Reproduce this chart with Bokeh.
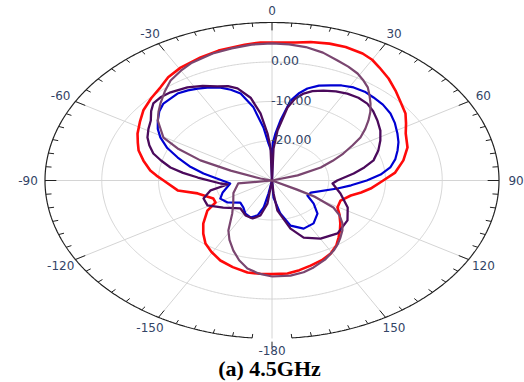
import numpy as np
from bokeh.plotting import figure
from bokeh.models import Range1d
from bokeh.embed import file_html
from bokeh.resources import INLINE
from bokeh.core.properties import value

# ---------------- data (angle in degrees, gain in dB) ----------------
red_ang = [-180, -175, -169.5, -162.5, -155.8, -149.5, -143.7, -138, -132, -123.8, -119.2, -113.8,
           -104, -98.6, -90, -86.5, -83.3, -77.5, -72.1, -68, -63.4, -57.5, -51.9, -45.5, -39.8,
           -35, -29.4, -22, -16, -8, -3.3, 0, 6.8, 11, 16.3, 21, 26.4, 30, 33.5, 38.5, 43.7,
           48.5, 54.2, 58.5, 63.2, 70.7, 77.6, 84.7, 90, 96.7, 101, 105.3, 112.8, 120.6, 126,
           132, 136.5, 140.9, 145.5, 150.8, 156.5, 162.5, 168, 173.4, 180]
red_db = [-6.3, -6.3, -6.3, -7.0, -7.8, -9.0, -10.2, -11.9, -13.7, -16.3, -18.6, -18.7,
          -16.5, -13.2, -10.9, -9.6, -8.4, -6.8, -5.3, -4.5, -3.5, -2.4, -1.2, -0.2, 0.7,
          1.9, 2.8, 3.6, 4.2, 4.7, 5.0, 4.9, 5.2, 5.7, 6.1, 6.2, 5.9, 5.3, 4.3, 3.0, 1.5,
          0.2, -1.0, -2.3, -3.6, -4.7, -6.3, -8.2, -10.4, -12.5, -14.0, -15.6, -16.9, -16.6, -15.3,
          -13.8, -12.6, -11.4, -10.0, -8.8, -8.0, -7.4, -6.8, -6.3, -6.3]

blue_ang = [-180, -169.4, -167.8, -164, -157.9, -150.8, -143.6, -135, -125.3, -116.7, -109.2,
            -96, -81.7, -76, -70.7, -66, -61, -57, -53, -48.5, -44.5, -37.1, -33, -29.4, -25,
            -21.1, -17.5, -14.1, -10, -6.4, -3.8, -1, 0, 0.8, 3, 5.6, 9.2, 12, 15, 19, 23.2, 27,
            31.4, 36, 40.4, 45.5, 50.9, 56, 61.7, 66.5, 71, 76, 81, 85.5, 90, 95, 100, 114,
            121.3, 128.6, 136.3, 146, 155.4, 164, 170, 176.5, 180]
blue_db = [-30, -26.7, -23.0, -20.8, -19.9, -20.4, -21.5, -22.1, -20.4, -19.8, -20.8,
           -22.6, -17.8, -15.0, -12.4, -9.8, -7.5, -6.0, -4.8, -3.5, -2.7, -2.4, -2.8, -3.3, -4.0,
           -4.8, -5.9, -7.3, -11.2, -16.5, -20.6, -22.5, -30, -20.5, -18.0, -14.7, -9.5, -7.5,
           -5.9, -4.6, -3.8, -3.0, -2.4, -2.2, -2.4, -2.6, -3.1, -3.9, -4.9, -5.7, -6.6, -7.6,
           -8.9, -10.8, -13.3, -16.0, -18.3, -22.5, -22.7, -20.6, -18.4, -16.9, -16.6, -18.1,
           -21.5, -25.7, -30]

purple_ang = [-180, -172.2, -167, -160.4, -152.2, -141.9, -128.6, -119, -110.7, -103, -97.3,
              -94.8, -86.7, -83, -79.6, -75.5, -71.9, -67.5, -63.6, -59, -54.6, -50.5, -47, -43,
              -38.7, -32.3, -27, -22, -18, -14.6, -10.2, -6.8, -3.8, -1.8, 0, 1.9, 4.4, 8.4, 11,
              14.2, 17.5, 21.7, 26.5, 31.1, 36, 40.8, 45.5, 50.7, 56.5, 62.1, 68, 74.1, 78.5, 83,
              90, 94.1, 105.2, 117.2, 127.2, 139.2, 149.8, 158.9, 165, 172.8, 175.4, 180]
purple_db = [-30, -24.1, -20.9, -19.8, -20.0, -21.0, -19.0, -17.0, -17.1, -18.9, -22.1,
             -20.9, -16.9, -14.2, -11.8, -9.8, -8.0, -6.6, -5.5, -4.6, -3.8, -2.4, -1.4, -1.2,
             -1.4, -2.1, -3.1, -4.3, -4.9, -5.9, -8.7, -12.9, -18.1, -21.6, -30, -21.9, -17.3,
             -11.3, -9.0, -7.3, -6.3, -5.5, -4.8, -4.3, -4.1, -4.3, -5.0, -6.0, -7.1, -8.4, -9.8,
             -11.4, -13.4, -15.5, -18.5, -19.3, -17.5, -15.0, -13.3, -12.3, -13.0, -14.5, -17.4,
             -22.3, -26.7, -30]

mauve_ang = [-180, -174.5, -169, -164, -159, -153.5, -148.7, -140, -130.6, -115, -97, -85, -76,
             -71, -68, -64, -60.4, -53, -49, -45.2, -40, -35.2, -30, -25.3, -18, -12, -6, 0, 5,
             10, 15.5, 20.8, 25, 29.1, 32.5, 35.6, 38.5, 41.7, 45, 48.2, 51.5, 55.1, 58, 61.5,
             65, 69, 74, 92, 117.5, 118.5, 122.3, 126.5, 131.2, 135.5, 140.1, 144.5, 148.5, 155,
             161.6, 166.5, 172.3, 180]
mauve_db = [-5.7, -6.3, -7.3, -9.0, -11.0, -13.2, -15.2, -19.1, -21.0, -22.5, -24.0, -30, -27.9,
            -22.3, -16.4, -11.5, -8.0, -4.8, -3.5, -2.3, -0.6, 1.0, 2.1, 3.0, 3.8, 4.2, 4.6, 4.7,
            4.6, 4.3, 3.6, 2.5, 1.8, 1.0, 0.0, -1.0, -2.4, -3.9, -5.5, -7.2, -9.0, -11.0, -13.3,
            -15.7, -18.2, -20.8, -25.3, -30, -25.0, -21.5, -17.2, -15.2, -13.5, -12.3, -11.2,
            -10.1, -9.2, -7.9, -6.8, -6.1, -5.7, -5.7]

ring_db = [-20, -10, 0]
ring_labels = ["-20.00", "-10.00", "0.00"]
angle_ticks = [0, 30, 60, 90, 120, 150, 180, -150, -120, -90, -60, -30]
angle_labels = ["0", "30", "60", "90", "120", "150", "-180", "-150", "-120", "-90", "-60", "-30"]
caption = "(a) 4.5GHz"

DB_MIN, DB_MAX = -30.0, 10.0

# ---------------- helpers ----------------
def rho_of(db):
    return np.clip((np.asarray(db, float) - DB_MIN) / (DB_MAX - DB_MIN), 0, None)

def to_xy(ang, rho):
    a = np.radians(np.asarray(ang, float))
    rho = np.asarray(rho, float)
    return rho * np.sin(a), rho * np.cos(a)

# pixel geometry: centre (271.5, 180), 227 px per unit horizontally, 158 vertically
W, H = 524, 382
CX, CY, RX, RY = 271.5, 180.0, 227.0, 158.0

p = figure(width=W, height=H, output_backend="svg", toolbar_location=None,
           x_range=Range1d(-CX / RX, (W - CX) / RX),
           y_range=Range1d(-(H - CY) / RY, CY / RY),
           min_border=0, min_border_left=0, min_border_right=0,
           min_border_top=0, min_border_bottom=0)
p.axis.visible = False
p.grid.visible = False
p.outline_line_color = None
p.background_fill_color = "white"
p.border_fill_color = "white"

grid_col = "#d4d4d4"

# rings
t = np.linspace(-180, 180, 721)
for db in ring_db:
    gx, gy = to_xy(t, np.full_like(t, rho_of(db)))
    p.line(gx, gy, line_color=grid_col, line_width=1)

# spokes
sx0, sy0 = to_xy(angle_ticks, np.zeros(len(angle_ticks)))
sx1, sy1 = to_xy(angle_ticks, np.ones(len(angle_ticks)))
p.segment(sx0, sy0, sx1, sy1, line_color=grid_col, line_width=1)

# outer ring (gap at the bottom under the -180 label)
to = np.linspace(-175, 175, 701)
ox, oy = to_xy(to, np.ones_like(to))
p.line(ox, oy, line_color="#222222", line_width=1.2)

# ticks every 5 degrees
tick_ang = np.arange(-175, 180, 5)
major = (tick_ang % 30 == 0)
inner = np.where(major, 0.95, 0.975)
tx0, ty0 = to_xy(tick_ang, np.ones_like(tick_ang, dtype=float))
tx1, ty1 = to_xy(tick_ang, inner)
p.segment(tx0, ty0, tx1, ty1, line_color="#222222", line_width=1)
bx0, by0 = to_xy([180], [1.02])
bx1, by1 = to_xy([180], [1.055])
p.segment(bx0, by0, bx1, by1, line_color="#222222", line_width=1)

# curves
def curve(ang, db, color, lw):
    ang = np.asarray(ang, float)
    db = np.asarray(db, float)
    order = np.argsort(ang, kind="stable")
    x, y = to_xy(ang[order], rho_of(db[order]))
    p.line(np.append(x, x[0]), np.append(y, y[0]), line_color=color, line_width=lw,
           line_join="round")

curve(red_ang, red_db, "#ff0a0a", 2.6)
curve(blue_ang, blue_db, "#0000d2", 2.2)
curve(purple_ang, purple_db, "#4b0a5c", 2.3)
curve(mauve_ang, mauve_db, "#7a4670", 2.2)

lab_col = "#334466"

# angle labels
lx, ly = to_xy(angle_ticks, np.full(len(angle_ticks), 1.075))
p.text(lx, ly, text=angle_labels, text_font=value("DejaVu Sans"), text_font_size="12px",
       text_color=lab_col, text_align="center", text_baseline="middle")

# radial labels
rr = rho_of(ring_db)
p.text(np.full(len(rr), -0.004), rr + 0.008, text=ring_labels, text_font=value("DejaVu Sans"),
       text_font_size="12.5px", text_color=lab_col, text_align="left", text_baseline="middle")

# caption
p.text([(269 - CX) / RX], [(CY - 368) / RY], text=[caption],
       text_font=value("Liberation Serif"), text_font_size="22px", text_font_style="bold",
       text_color="black", text_align="center", text_baseline="middle")

open("out.html", "w").write(file_html(p, INLINE))
